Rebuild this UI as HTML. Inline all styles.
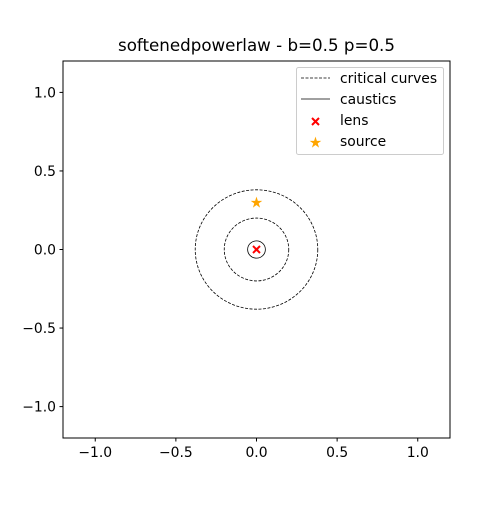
<!DOCTYPE html>
<html><head><meta charset="utf-8"><style>body{margin:0;background:#fff}svg text{font-family:"DejaVu Sans","Liberation Sans",sans-serif}</style></head>
<body>
<svg width="500" height="500" id="chart">
<rect x="0" y="0" width="500" height="500" fill="#fff"/>
<text x="256.5" y="51" text-anchor="middle" font-size="16.7">softenedpowerlaw - b=0.5 p=0.5</text>
<g id="plot"></g>
<rect x="63" y="61" width="387" height="377" fill="none" stroke="#000" stroke-width="1"/>
<g>
<rect x="296.5" y="67.5" width="147" height="87" rx="2" fill="#fff" stroke="#ccc"/>
<line x1="301" y1="78" x2="330" y2="78" stroke="#000" stroke-width="0.8" stroke-dasharray="3,1.5"/>
<text x="340" y="83" font-size="13.9">critical curves</text>
<line x1="301" y1="99" x2="330" y2="99" stroke="#000" stroke-width="0.8"/>
<text x="340" y="104" font-size="13.9">caustics</text>
<path d="M312,118L319,125M312,125L319,118" stroke="red" stroke-width="2"/>
<text x="340" y="125" font-size="13.9">lens</text>
<text x="315.5" y="147.5" font-size="15" fill="orange" text-anchor="middle">★</text>
<text x="340" y="146" font-size="13.9">source</text>
</g>
</svg>
<script>
const xTicks=[-1.0,-0.5,0.0,0.5,1.0];
const yTicks=[-1.0,-0.5,0.0,0.5,1.0];
const criticalRadii=[0.38,0.2];
const causticRadii=[0.055,0.008];
const lensPos=[0,0];
const sourcePos=[0,0.3];
const NS="http://www.w3.org/2000/svg";
const sx=v=>256.5+v*161.25, sy=v=>249.5-v*157.1;
const g=document.getElementById('plot');
function mk(t,a){const e=document.createElementNS(NS,t);for(const k in a)e.setAttribute(k,a[k]);g.appendChild(e);return e;}
xTicks.forEach(v=>{
 const l=mk('line',{x1:sx(v),x2:sx(v),y1:438,y2:441.5,stroke:'#000'});
 
 
 const t=mk('text',{x:sx(v),y:457,'font-size':13.9,'text-anchor':'middle'});t.textContent=v.toFixed(1).replace('-','\u2212');
 
 
});
yTicks.forEach(v=>{
 const l=mk('line',{x1:59.5,x2:63,y1:sy(v),y2:sy(v),stroke:'#000'});
 
 
 const t=mk('text',{x:56,y:sy(v)+5,'font-size':13.9,'text-anchor':'end'});t.textContent=v.toFixed(1).replace('-','\u2212');
 
 
});
criticalRadii.forEach(r=>{
 const c=mk('ellipse',{cx:sx(0),cy:sy(0),rx:r*161.25,ry:r*157.1,fill:'none',stroke:'#000','stroke-width':0.8,'stroke-dasharray':'3,1.5'});
 
 
});
causticRadii.forEach(r=>{
 const c=mk('ellipse',{cx:sx(0),cy:sy(0),rx:r*161.25,ry:r*157.1,fill:'none',stroke:'#000','stroke-width':0.8});
 
 
});
const lx=sx(lensPos[0]),ly=sy(lensPos[1]);
const lm=mk('path',{d:`M${lx-3.5},${ly-3.5}L${lx+3.5},${ly+3.5}M${lx-3.5},${ly+3.5}L${lx+3.5},${ly-3.5}`,stroke:'red','stroke-width':2});


const sm=mk('text',{x:sx(sourcePos[0]),y:sy(sourcePos[1])+5,'font-size':15,fill:'orange','text-anchor':'middle'});sm.textContent='★';


</script>
</body></html>
